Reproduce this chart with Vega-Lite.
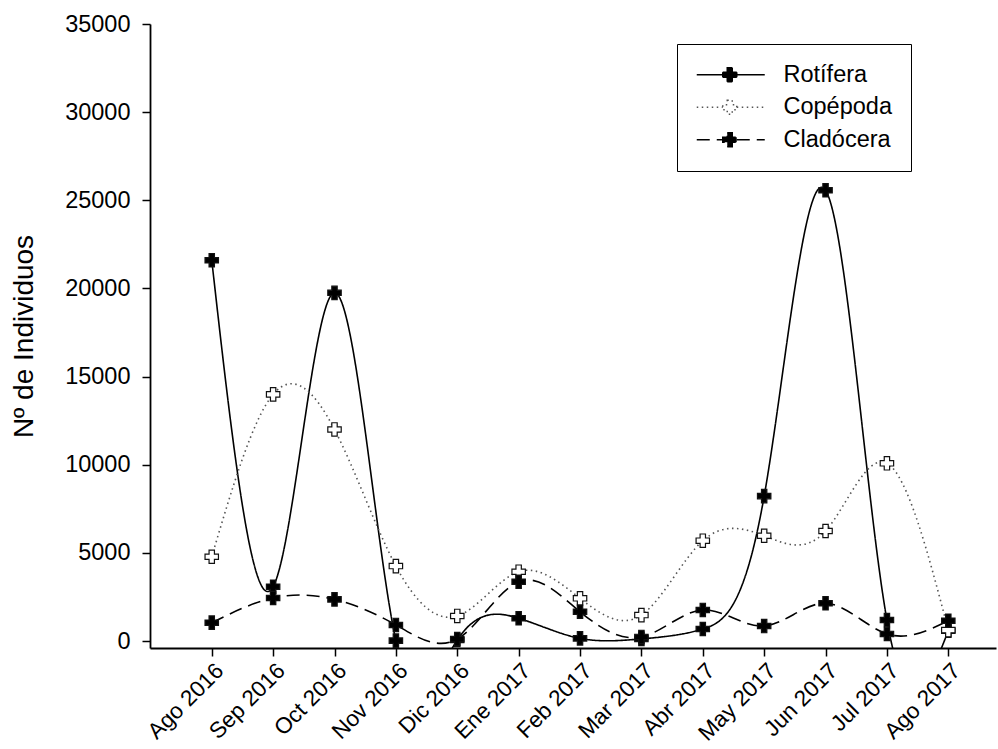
{
  "$schema": "https://vega.github.io/schema/vega-lite/v6.json",
  "width": 846,
  "height": 624,
  "autosize": {"type": "none"},
  "padding": {"left": 150, "top": 24, "right": 2, "bottom": 101},
  "background": "white",
  "config": {
    "view": {"stroke": null},
    "font": "Liberation Sans",
    "axis": {
      "domainColor": "black", "domainWidth": 1.8,
      "tickColor": "black", "tickWidth": 1.5, "tickSize": 8,
      "labelColor": "black", "labelFontSize": 23.5, "labelFont": "Liberation Sans",
      "grid": false, "titleColor": "black", "titleFont": "Liberation Sans", "titleFontWeight": "normal"
    }
  },
  "data": {
    "values": [
      {"mes": 0, "grupo": "Rotífera", "n": 21600},
      {"mes": 1, "grupo": "Rotífera", "n": 3080},
      {"mes": 2, "grupo": "Rotífera", "n": 19750},
      {"mes": 3, "grupo": "Rotífera", "n": 20},
      {"mes": 4, "grupo": "Rotífera", "n": 60},
      {"mes": 5, "grupo": "Rotífera", "n": 1290},
      {"mes": 6, "grupo": "Rotífera", "n": 150},
      {"mes": 7, "grupo": "Rotífera", "n": 120},
      {"mes": 8, "grupo": "Rotífera", "n": 680},
      {"mes": 9, "grupo": "Rotífera", "n": 8220},
      {"mes": 10, "grupo": "Rotífera", "n": 25570},
      {"mes": 11, "grupo": "Rotífera", "n": 1190},
      {"mes": 12, "grupo": "Rotífera", "n": 580},
      {"mes": 0, "grupo": "Copépoda", "n": 4780},
      {"mes": 1, "grupo": "Copépoda", "n": 13990},
      {"mes": 2, "grupo": "Copépoda", "n": 12000},
      {"mes": 3, "grupo": "Copépoda", "n": 4250},
      {"mes": 4, "grupo": "Copépoda", "n": 1420},
      {"mes": 5, "grupo": "Copépoda", "n": 3930},
      {"mes": 6, "grupo": "Copépoda", "n": 2420},
      {"mes": 7, "grupo": "Copépoda", "n": 1470},
      {"mes": 8, "grupo": "Copépoda", "n": 5690},
      {"mes": 9, "grupo": "Copépoda", "n": 5970},
      {"mes": 10, "grupo": "Copépoda", "n": 6240},
      {"mes": 11, "grupo": "Copépoda", "n": 10080},
      {"mes": 12, "grupo": "Copépoda", "n": 620},
      {"mes": 0, "grupo": "Cladócera", "n": 1040},
      {"mes": 1, "grupo": "Cladócera", "n": 2440},
      {"mes": 2, "grupo": "Cladócera", "n": 2360},
      {"mes": 3, "grupo": "Cladócera", "n": 910},
      {"mes": 4, "grupo": "Cladócera", "n": 110},
      {"mes": 5, "grupo": "Cladócera", "n": 3360},
      {"mes": 6, "grupo": "Cladócera", "n": 1660},
      {"mes": 7, "grupo": "Cladócera", "n": 230},
      {"mes": 8, "grupo": "Cladócera", "n": 1760},
      {"mes": 9, "grupo": "Cladócera", "n": 850},
      {"mes": 10, "grupo": "Cladócera", "n": 2140},
      {"mes": 11, "grupo": "Cladócera", "n": 400},
      {"mes": 12, "grupo": "Cladócera", "n": 1150}
    ]
  },
  "encoding": {
    "x": {
      "field": "mes", "type": "quantitative",
      "scale": {"domain": [-1.006, 12.777], "nice": false, "zero": false},
      "axis": {
        "values": [0, 1, 2, 3, 4, 5, 6, 7, 8, 9, 10, 11, 12],
        "labelExpr": "['Ago 2016','Sep 2016','Oct 2016','Nov 2016','Dic 2016','Ene 2017','Feb 2017','Mar 2017','Abr 2017','May 2017','Jun 2017','Jul 2017','Ago 2017'][datum.value]",
        "labelAngle": -45, "labelAlign": "right", "labelBaseline": "top",
        "labelFontSize": 22.5,
        "labelPadding": 3, "labelOverlap": false, "labelBound": false, "title": null
      }
    },
    "y": {
      "field": "n", "type": "quantitative",
      "scale": {"domain": [-397, 35000], "nice": false, "zero": false},
      "axis": {
        "values": [0, 5000, 10000, 15000, 20000, 25000, 30000, 35000],
        "format": "d", "labelPadding": 12, "labelOverlap": false,
        "title": "Nº de Individuos", "titleFontSize": 28, "titlePadding": 26
      }
    }
  },
  "layer": [
    {
      "mark": {"type": "line", "interpolate": "natural", "clip": true, "strokeWidth": 1.6},
      "encoding": {
        "stroke": {"condition": {"test": "datum.grupo == 'Copépoda'", "value": "#555555"}, "value": "black"},
        "strokeDash": {
          "field": "grupo", "type": "nominal",
          "scale": {"domain": ["Rotífera", "Copépoda", "Cladócera"], "range": [[1, 0], [1.5, 3.5], [13, 7]]},
          "legend": {
            "title": null, "orient": "none", "legendX": 527, "legendY": 20,
            "symbolType": "M-1.1,0H1.5M2.9,0H5.7M1.95,-0.7H2.45V-0.25H2.9V0.25H2.45V0.7H1.95V0.25H1.5V-0.25H1.95Z",
            "symbolSize": 400, "symbolStrokeWidth": 1.5, "symbolStrokeColor": "black",
            "padding": 19, "rowPadding": 7.5, "labelFontSize": 23.5, "labelOffset": 64,
            "labelColor": "black", "labelFont": "Liberation Sans",
            "strokeColor": "black", "fillColor": "white",
            "encode": {
              "symbols": {
                "update": {
                  "fill": {"signal": "datum.value == 'Copépoda' ? 'white' : 'black'"},
                  "stroke": {"signal": "datum.value == 'Copépoda' ? '#555555' : 'black'"}
                }
              }
            }
          }
        }
      }
    },
    {
      "mark": {"type": "point", "shape": "cross", "filled": true, "size": 180, "stroke": "#111111", "strokeWidth": 1.2, "opacity": 1, "clip": true},
      "encoding": {
        "fill": {
          "field": "grupo", "type": "nominal",
          "scale": {"domain": ["Rotífera", "Copépoda", "Cladócera"], "range": ["black", "white", "black"]},
          "legend": null
        }
      }
    }
  ]
}
